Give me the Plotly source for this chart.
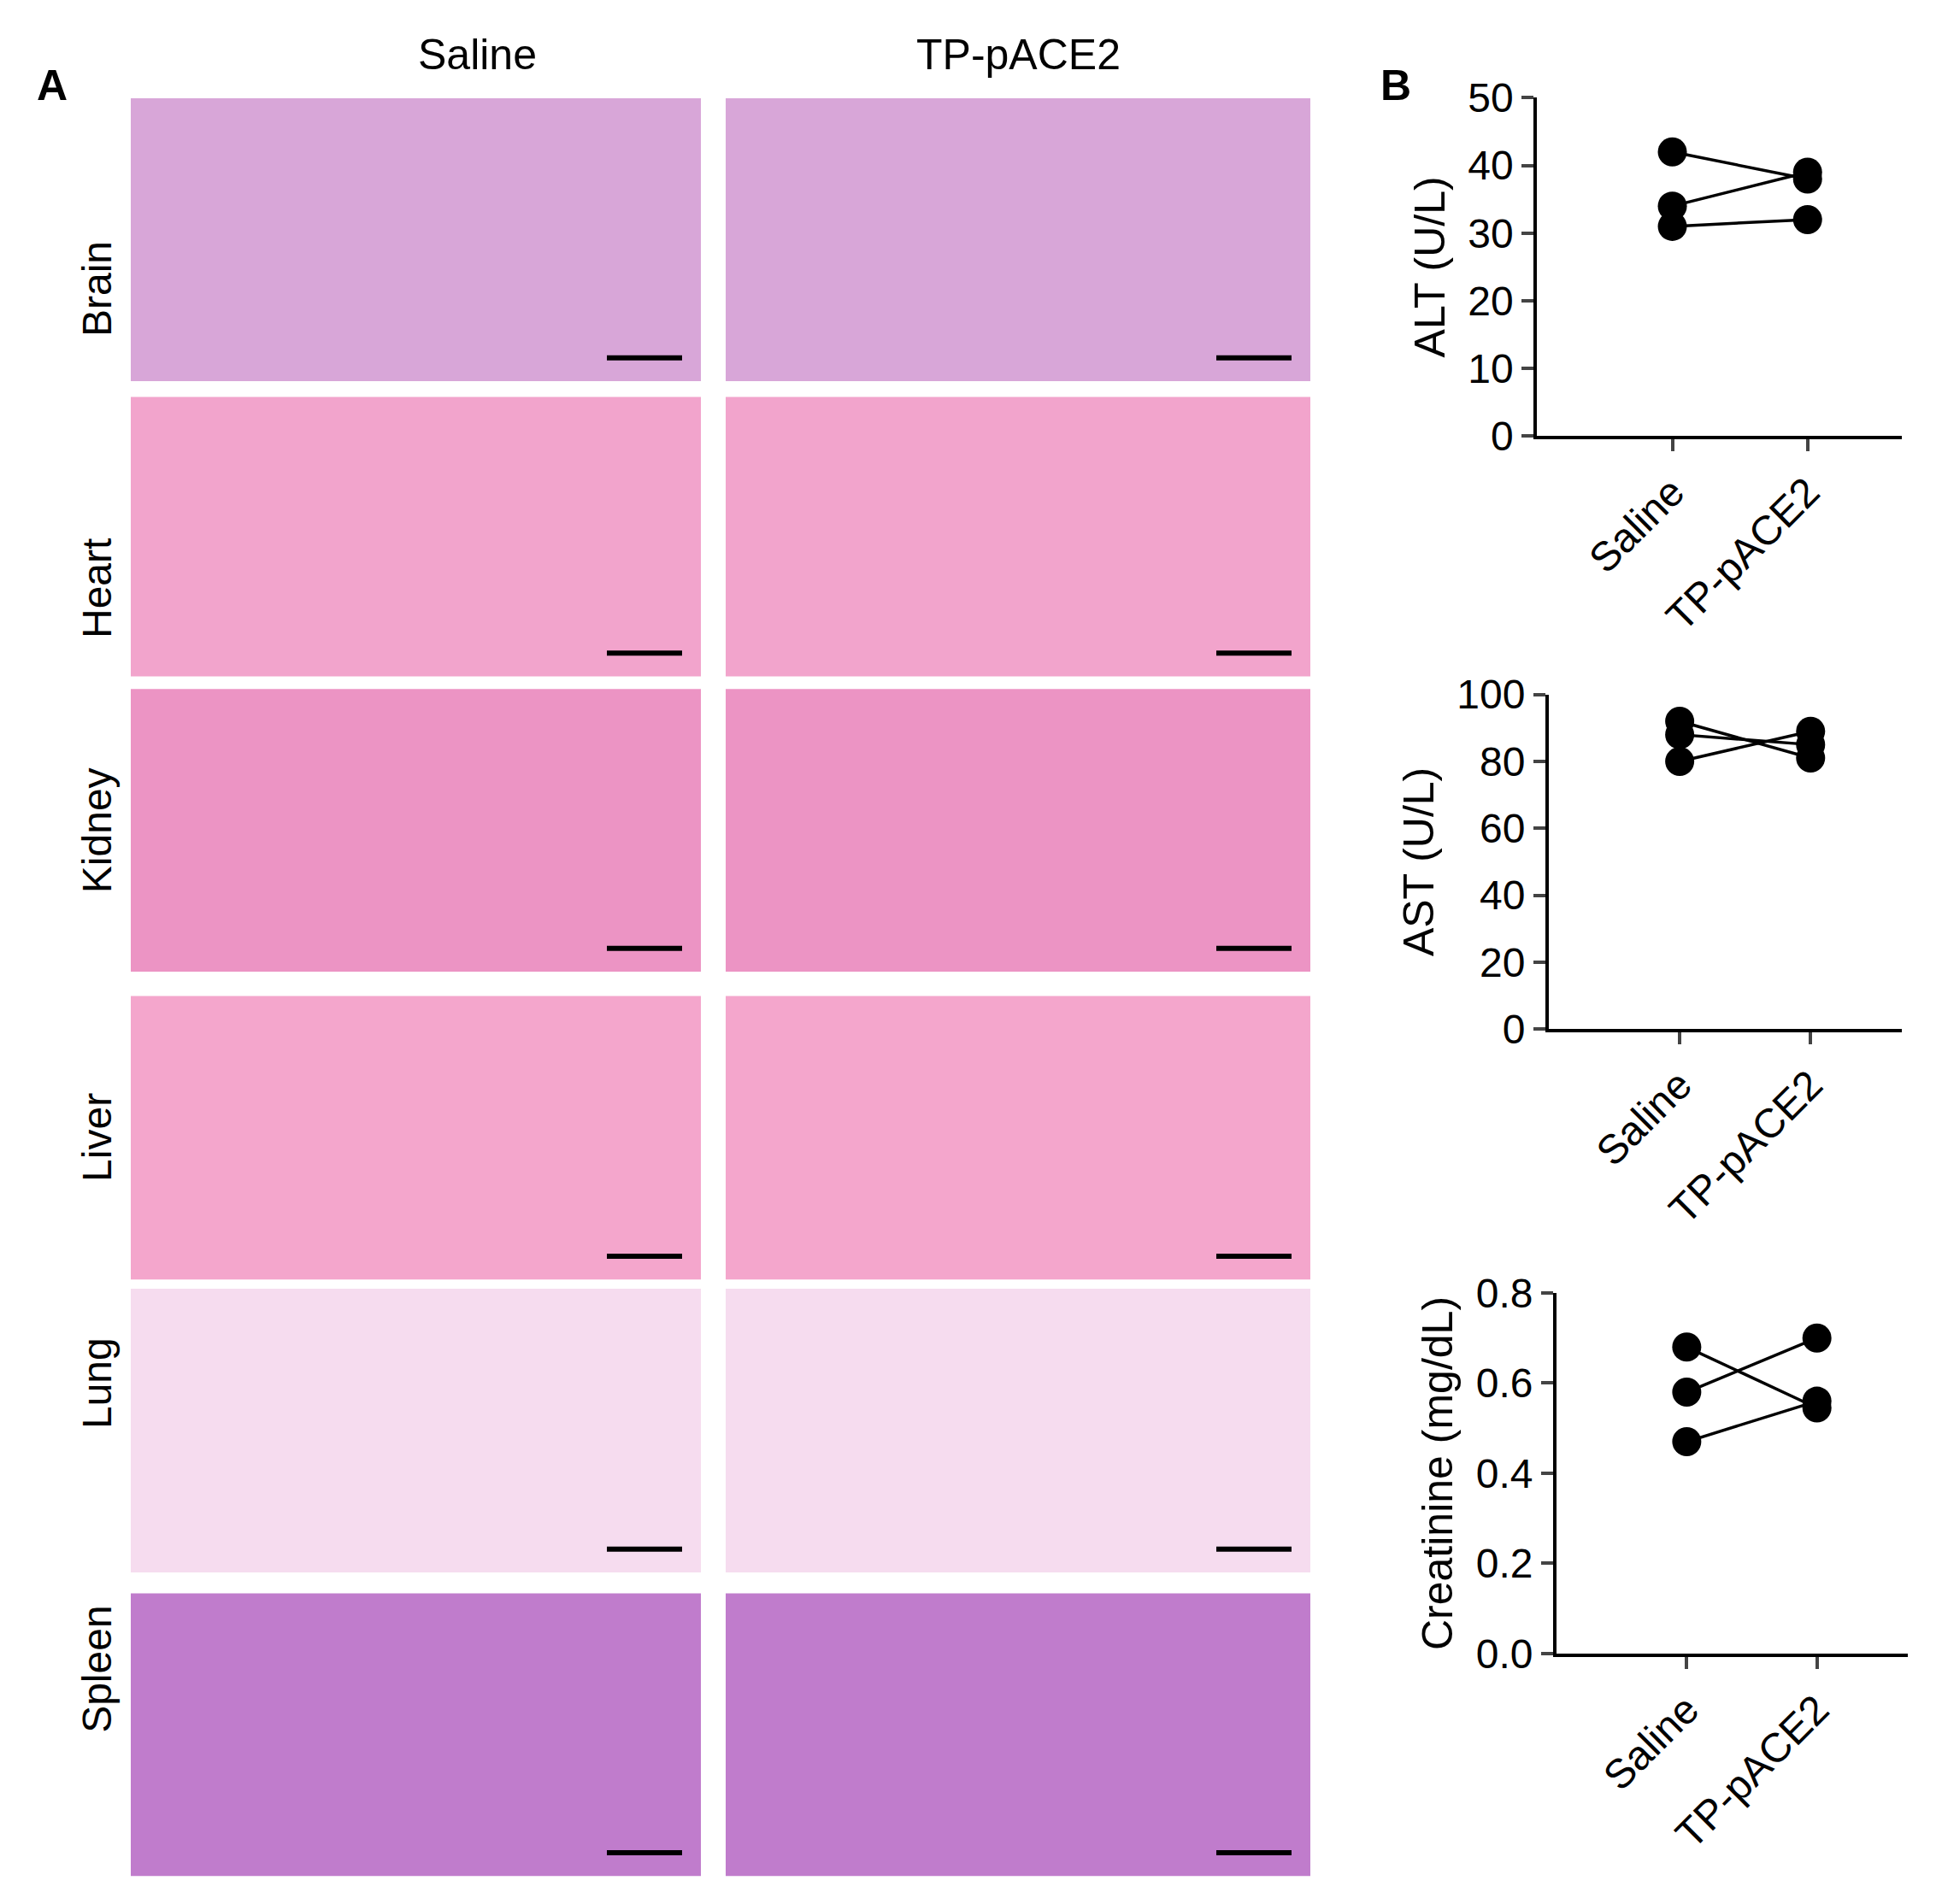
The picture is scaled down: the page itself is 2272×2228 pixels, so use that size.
import plotly.graph_objects as go

W, H = 2272, 2228
groups = ["Saline", "TP-pACE2"]
alt_saline = [42, 34, 31]
alt_tp = [38, 39, 32]
ast_saline = [92, 88, 80]
ast_tp = [81, 85, 89]
cre_saline = [0.68, 0.58, 0.47]
cre_tp = [0.545, 0.70, 0.56]
organs = ["Brain", "Heart", "Kidney", "Liver", "Lung", "Spleen"]
organ_colors = ["#d8a6d8", "#f2a4cc", "#ec94c4", "#f4a6cc", "#f6dcef", "#c07ccc"]

fig = go.Figure()
font = "Arial, Liberation Sans, sans-serif"

panels = [
    ("ALT (U/L)", alt_saline, alt_tp, [0, 50], 10, (0.781, 0.963), (0.788, 0.976), "x", "y"),
    ("AST (U/L)", ast_saline, ast_tp, [0, 100], 20, (0.462, 0.642), (0.794, 0.976), "x2", "y2"),
    ("Creatinine (mg/dL)", cre_saline, cre_tp, [0, 0.8], 0.2, (0.126, 0.320), (0.798, 0.979), "x3", "y3"),
]
for i, (title, s, t, yr, dt, ydom, xdom, xa, ya) in enumerate(panels):
    for a, b in zip(s, t):
        fig.add_trace(go.Scatter(x=[0, 1], y=[a, b], mode="lines+markers", xaxis=xa, yaxis=ya,
                                 line=dict(color="black", width=3.5),
                                 marker=dict(color="black", size=34), showlegend=False))
    sfx = "" if i == 0 else str(i + 1)
    fig.layout["xaxis" + sfx] = dict(domain=list(xdom), range=[-1.0, 1.7], anchor=ya,
        tickvals=[0, 1], ticktext=groups, tickangle=-45, ticks="outside", ticklen=14,
        tickwidth=4, showline=True, linewidth=4, linecolor="black", showgrid=False,
        zeroline=False, tickfont=dict(size=48, family=font, color="black"))
    fig.layout["yaxis" + sfx] = dict(domain=list(ydom), range=yr, anchor=xa, dtick=dt,
        ticks="outside", ticklen=14, tickwidth=4, showline=True, linewidth=4,
        linecolor="black", showgrid=False, zeroline=False,
        tickformat=".1f" if dt < 1 else "d",
        tickfont=dict(size=48, family=font, color="black"),
        title=dict(text=title, font=dict(size=50, family=font, color="black"), standoff=12))

rows = [(83, 422), (441, 776), (791, 1130), (1159, 1499), (1510, 1850), (1875, 2214)]
cols = [(145, 812), (841, 1525)]
shapes = []
ann = []
for (y0, y1), org, col in zip(rows, organs, organ_colors):
    for (x0, x1) in cols:
        shapes.append(dict(type="rect", xref="paper", yref="paper", x0=x0 / W, x1=x1 / W,
                           y0=1 - y1 / H, y1=1 - y0 / H, fillcolor=col, line=dict(width=0), layer="below"))
        shapes.append(dict(type="line", xref="paper", yref="paper", x0=(x1 - 110) / W, x1=(x1 - 22) / W,
                           y0=1 - (y1 - 28) / H, y1=1 - (y1 - 28) / H, line=dict(color="black", width=6)))
    ann.append(dict(text=org, x=77 / W, y=1 - (y0 + y1) / 2 / H, xref="paper", yref="paper",
                    textangle=-90, showarrow=False, font=dict(size=48, family=font, color="black")))
for (x0, x1), g in zip(cols, groups):
    ann.append(dict(text=g, x=(x0 + x1) / 2 / W, y=1 - 31 / H, xref="paper", yref="paper",
                    yanchor="middle", showarrow=False, font=dict(size=50, family=font, color="black")))
ann.append(dict(text="<b>A</b>", x=33 / W, y=1 - 68 / H, xref="paper", yref="paper", showarrow=False,
                yanchor="middle", font=dict(size=50, family=font, color="black")))
ann.append(dict(text="<b>B</b>", x=1645 / W, y=1 - 68 / H, xref="paper", yref="paper", showarrow=False,
                yanchor="middle", font=dict(size=50, family=font, color="black")))

fig.update_layout(width=W, height=H, margin=dict(l=0, r=0, t=0, b=0),
                  paper_bgcolor="white", plot_bgcolor="white", shapes=shapes, annotations=ann)
fig.write_html("out.html")
